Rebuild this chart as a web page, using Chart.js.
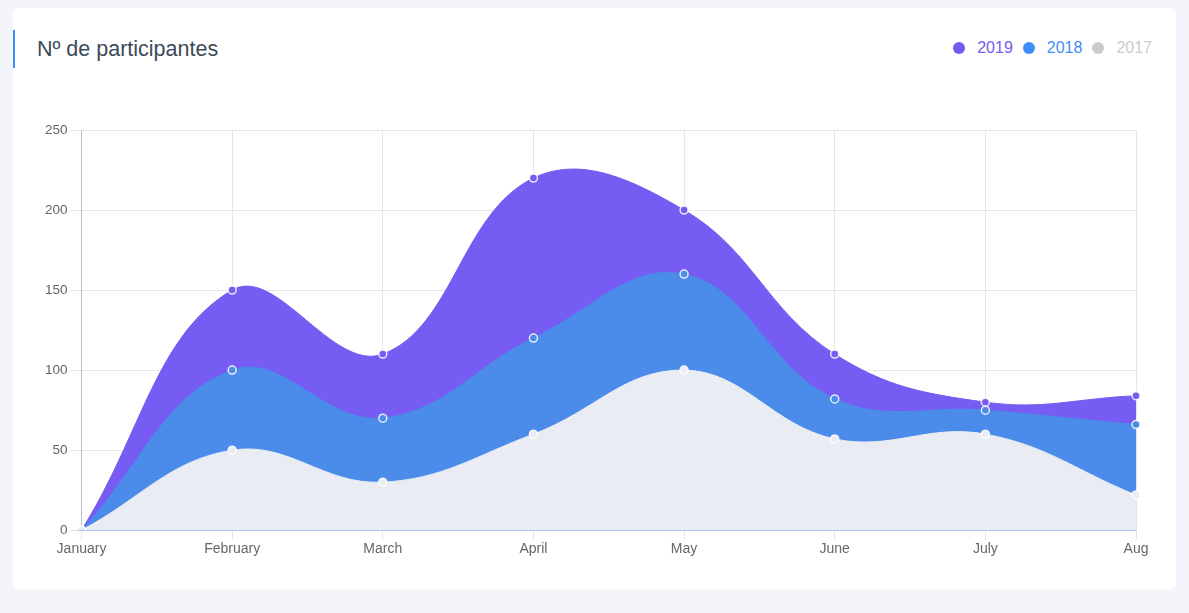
<!DOCTYPE html>
<html>
<head>
<meta charset="utf-8">
<script src="https://cdn.jsdelivr.net/npm/chart.js@4/dist/chart.umd.min.js"></script>
<style>
  html, body { margin: 0; padding: 0; background: #f4f5fa; width: 1189px; height: 613px; overflow: hidden; }
  .card { position: absolute; left: 13px; top: 8px; width: 1163px; height: 581px; background: #fff; border-radius: 5px; font-family: "Liberation Sans", Arial, sans-serif; }
  .title { position: absolute; left: 0; top: 22px; height: 38px; line-height: 38px; border-left: 2px solid #3d8ef8; padding-left: 22px; font-size: 21.5px; color: #3c4b58; }
  .legend { position: absolute; right: 24px; top: 28px; height: 24px; line-height: 24px; font-size: 16px; display: flex; }
  .legend span.item { display: flex; align-items: center; margin-left: 10px; }
  .legend span.dot { width: 12px; height: 12px; border-radius: 50%; margin-right: 12px; }
  .plot { position: absolute; left: 0; top: 82px; width: 1163px; height: 499px; }
</style>
</head>
<body>
<div class="card">
  <div class="title">Nº de participantes</div>
  <div class="legend" id="legend"></div>
  <div class="plot"><canvas id="chart"></canvas></div>
</div>
<script>
const months = ['January', 'February', 'March', 'April', 'May', 'June', 'July', 'Aug'];
const series2019 = [0, 150, 110, 220, 200, 110, 80, 84];
const series2018 = [0, 100, 70, 120, 160, 82, 75, 66];
const series2017 = [0, 50, 30, 60, 100, 57, 60, 22];
const seriesNames = ['2019', '2018', '2017'];
const legendColors = ['#7559f0', '#3d8ef8', '#cccccc'];

const legend = document.getElementById('legend');
seriesNames.forEach((name, i) => {
  const item = document.createElement('span');
  item.className = 'item';
  item.innerHTML = '<span class="dot" style="background:' + legendColors[i] + '"></span>' +
    '<span style="color:' + legendColors[i] + '">' + name + '</span>';
  legend.appendChild(item);
});

function area(label, data, color) {
  return {
    label,
    data,
    fill: 'origin',
    backgroundColor: color,
    borderColor: color,
    borderWidth: 1,
    tension: 0.4,
    pointRadius: 4,
    pointBorderWidth: 1.5,
    pointBackgroundColor: color,
    pointBorderColor: 'rgba(255,255,255,0.85)'
  };
}

Chart.defaults.font.family = '"Liberation Sans", Arial, sans-serif';

new Chart(document.getElementById('chart'), {
  type: 'line',
  data: {
    labels: months,
    datasets: [
      area('2017', series2017, '#e9ecf2'),
      area('2018', series2018, '#4b8be9'),
      area('2019', series2019, '#765cf2')
    ]
  },
  options: {
    responsive: true,
    maintainAspectRatio: false,
    animation: false,
    layout: { padding: { left: 30, right: 40, top: 40, bottom: 30 } },
    plugins: { legend: { display: false }, tooltip: { enabled: false } },
    scales: {
      x: {
        grid: { color: '#e6e6e6', tickLength: 10 },
        border: { color: '#b8c4ea' },
        ticks: { color: '#666', font: { size: 14 }, padding: 1, maxRotation: 0 }
      },
      y: {
        min: 0,
        max: 250,
        grid: { color: '#e6e6e6', tickLength: 12 },
        border: { color: '#bbbbbb' },
        ticks: { stepSize: 50, color: '#666', font: { size: 13.5 }, padding: 2 }
      }
    }
  }
});
</script>
</body>
</html>
